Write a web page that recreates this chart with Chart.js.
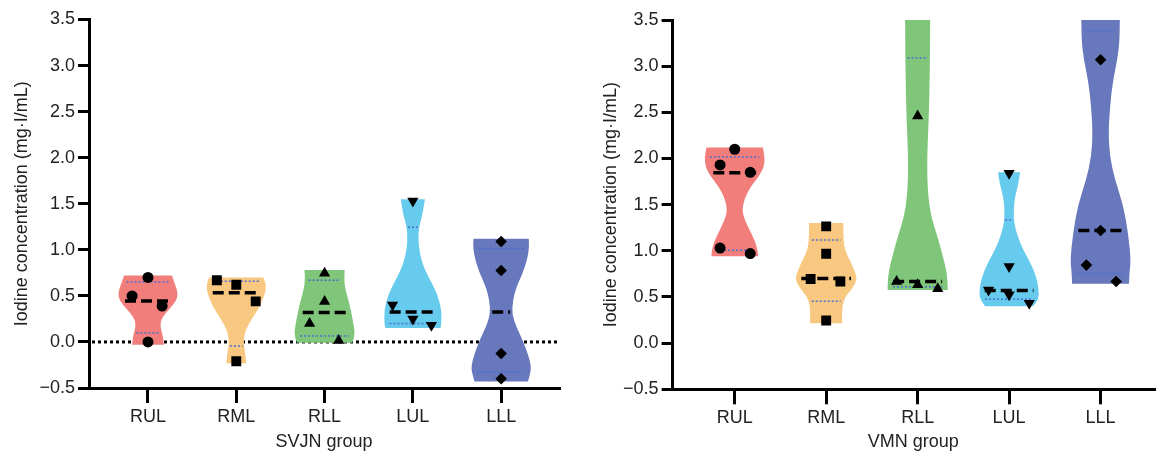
<!DOCTYPE html>
<html>
<head>
<meta charset="utf-8">
<script src="https://cdn.jsdelivr.net/npm/chart.js@4.4.1/dist/chart.umd.min.js"></script>
<style>
  html, body { margin: 0; padding: 0; background: #fff; }
  #wrap { position: relative; width: 1161px; height: 453px; overflow: hidden; }
  canvas { position: absolute; top: 0; }
  #svjnCanvas { left: 0; }
  #vmnCanvas { left: 580px; }
</style>
</head>
<body>
<div id="wrap">
  <canvas id="svjnCanvas" width="580" height="453"></canvas>
  <canvas id="vmnCanvas" width="581" height="453"></canvas>
</div>
<script>
const categories = ["RUL", "RML", "RLL", "LUL", "LLL"];
const yTickValues = [-0.5, 0, 0.5, 1, 1.5, 2, 2.5, 3, 3.5];
const violinColors = ["#F27E7B", "#F8C880", "#80C67A", "#67CBEE", "#6878BC"];
const pointStyles = ["circle", "rect", "triangle", "triangle", "rectRot"];
const pointRotations = [0, 0, 0, 180, 0];
const pointSizes = [5.5, 7, 6.5, 6.5, 5.8];

// SVJN group
const svjnValues = [
  [0.70, 0.50, 0.39, 0.0],
  [0.67, 0.62, 0.44, -0.21],
  [0.745, 0.44, 0.20, 0.015],
  [1.53, 0.40, 0.25, 0.18],
  [1.09, 0.775, -0.125, -0.40],
];
const svjnOffsets = [
  [0, -0.18, 0.16, 0],
  [-0.22, 0, 0.22, 0],
  [0, 0, -0.17, 0.16],
  [0, -0.23, 0, 0.21],
  [0, 0, 0, 0],
];
const svjnMedian = [0.445, 0.535, 0.32, 0.325, 0.325];
const svjnQ1 = [0.097, -0.045, 0.065, 0.2, -0.33];
const svjnQ3 = [0.65, 0.66, 0.67, 1.245, 1.013];
// violin outline: [value, relative half-width]
const svjnShape = [
  [[-0.03, 0.53], [0.05, 0.5], [0.12, 0.45], [0.2, 0.40], [0.28, 0.5], [0.36, 0.72], [0.44, 0.93], [0.52, 1.0], [0.6, 0.93], [0.67, 0.85], [0.72, 0.8]],
  [[-0.23, 0.33], [-0.15, 0.31], [-0.05, 0.26], [0.03, 0.25], [0.12, 0.3], [0.23, 0.48], [0.32, 0.66], [0.4, 0.8], [0.5, 0.93], [0.58, 0.99], [0.65, 0.97], [0.70, 0.9]],
  [[-0.01, 0.92], [0.05, 0.99], [0.12, 1.0], [0.2, 0.96], [0.32, 0.89], [0.45, 0.8], [0.56, 0.7], [0.67, 0.65], [0.78, 0.67]],
  [[0.15, 0.92], [0.2, 0.95], [0.3, 0.95], [0.38, 0.93], [0.52, 0.81], [0.67, 0.58], [0.81, 0.36], [0.96, 0.23], [1.1, 0.18], [1.25, 0.2], [1.39, 0.33], [1.55, 0.4]],
  [[-0.43, 0.89], [-0.34, 0.97], [-0.26, 1.0], [-0.13, 0.89], [0.016, 0.72], [0.16, 0.51], [0.3, 0.36], [0.45, 0.39], [0.6, 0.51], [0.74, 0.71], [0.885, 0.86], [1.03, 0.94], [1.12, 0.92]],
];

// VMN group
const vmnValues = [
  [2.10, 1.93, 1.85, 1.03, 0.97],
  [1.265, 0.968, 0.695, 0.668, 0.245],
  [2.46, 0.668, 0.632, 0.588],
  [1.84, 0.83, 0.575, 0.523, 0.433],
  [3.07, 1.22, 0.845, 0.668],
];
const vmnOffsets = [
  [0, -0.16, 0.17, -0.16, 0.17],
  [0, 0, -0.17, 0.155, 0],
  [0, -0.23, 0, 0.22],
  [0, 0, -0.225, 0, 0.22],
  [0, 0, -0.155, 0.17],
];
const vmnMedian = [1.845, 0.70, 0.668, 0.57, 1.22];
const vmnQ1 = [1.005, 0.455, 0.61, 0.477, 0.755];
const vmnQ3 = [2.015, 1.118, 3.09, 1.335, 3.384];
const vmnShape = [
  [[0.94, 0.76], [0.99, 0.76], [1.10, 0.67], [1.21, 0.51], [1.34, 0.32], [1.44, 0.24], [1.57, 0.32], [1.70, 0.53], [1.80, 0.78], [1.91, 0.96], [2.02, 0.98], [2.12, 0.92]],
  [[0.215, 0.52], [0.33, 0.52], [0.42, 0.54], [0.5, 0.62], [0.58, 0.82], [0.66, 0.97], [0.72, 1.0], [0.8, 0.9], [0.88, 0.8], [0.97, 0.66], [1.06, 0.58], [1.18, 0.56], [1.30, 0.56]],
  [[0.575, 0.98], [0.65, 0.98], [0.79, 0.94], [0.97, 0.80], [1.15, 0.65], [1.37, 0.44], [1.6, 0.34], [1.85, 0.31], [2.1, 0.32], [2.5, 0.37], [3.0, 0.40], [3.5, 0.41], [3.72, 0.41]],
  [[0.40, 0.78], [0.47, 0.96], [0.577, 0.97], [0.72, 0.89], [0.867, 0.70], [1.01, 0.46], [1.155, 0.28], [1.30, 0.16], [1.44, 0.15], [1.59, 0.19], [1.73, 0.31], [1.85, 0.36]],
  [[0.643, 0.93], [0.76, 0.94], [0.90, 0.99], [1.19, 0.90], [1.48, 0.75], [1.77, 0.47], [2.02, 0.30], [2.275, 0.26], [2.53, 0.30], [2.82, 0.39], [3.18, 0.61], [3.5, 0.63], [3.70, 0.63]],
];

const FONT = "'Liberation Sans', Arial, Helvetica, sans-serif";
const TEXT = "#222";

function widthAt(shape, v) {
  if (v <= shape[0][0]) return shape[0][1];
  for (let k = 1; k < shape.length; k++) {
    if (v <= shape[k][0]) {
      const [v0, w0] = shape[k - 1], [v1, w1] = shape[k];
      return w0 + (w1 - w0) * (v - v0) / (v1 - v0);
    }
  }
  return shape[shape.length - 1][1];
}

function traceSide(ctx, pts) {
  ctx.lineTo(pts[0][0], pts[0][1]);
  for (let k = 1; k < pts.length - 1; k++) {
    const mx = (pts[k][0] + pts[k + 1][0]) / 2, my = (pts[k][1] + pts[k + 1][1]) / 2;
    ctx.quadraticCurveTo(pts[k][0], pts[k][1], mx, my);
  }
  const last = pts[pts.length - 1];
  ctx.lineTo(last[0], last[1]);
}

function violinPlugin(shapes, medians, q1s, q3s, halfWidth, zeroLine) {
  return {
    id: "violin",
    beforeDatasetsDraw(chart) {
      const { ctx, chartArea: a, scales: { x, y } } = chart;
      ctx.save();
      ctx.beginPath();
      ctx.rect(a.left, a.top, a.right - a.left, a.bottom - a.top);
      ctx.clip();

      if (zeroLine) {
        const y0 = y.getPixelForValue(0);
        ctx.setLineDash([3, 3]);
        ctx.lineWidth = 3;
        ctx.strokeStyle = "#000";
        ctx.beginPath();
        ctx.moveTo(a.left + 3, y0);
        ctx.lineTo(a.right, y0);
        ctx.stroke();
      }

      shapes.forEach((shape, i) => {
        const c = i + 1;
        const left = shape.map(([v, w]) => [x.getPixelForValue(c - w * halfWidth), y.getPixelForValue(v)]);
        const right = shape.map(([v, w]) => [x.getPixelForValue(c + w * halfWidth), y.getPixelForValue(v)]).reverse();
        ctx.setLineDash([]);
        ctx.beginPath();
        ctx.moveTo(left[0][0], left[0][1]);
        traceSide(ctx, left);
        traceSide(ctx, right);
        ctx.closePath();
        ctx.fillStyle = violinColors[i];
        ctx.fill();
      });

      const hline = (i, v, dash, lw, color) => {
        const w = widthAt(shapes[i], v) * halfWidth * 0.82;
        const py = y.getPixelForValue(v);
        ctx.setLineDash(dash);
        ctx.lineWidth = lw;
        ctx.strokeStyle = color;
        ctx.beginPath();
        ctx.moveTo(x.getPixelForValue(i + 1 - w), py);
        ctx.lineTo(x.getPixelForValue(i + 1 + w), py);
        ctx.stroke();
      };
      shapes.forEach((s, i) => {
        hline(i, q1s[i], [2, 2], 1.5, "#4A6ED2");
        hline(i, q3s[i], [2, 2], 1.5, "#4A6ED2");
      });
      shapes.forEach((s, i) => hline(i, medians[i], [11, 5], 3.5, "#000"));
      ctx.restore();
    },
  };
}

function fmtTick(v) {
  return v < 0 ? "\u2212" + Math.abs(v).toFixed(1) : v.toFixed(1);
}

function makeChart(id, groupTitle, values, offsets, medians, q1s, q3s, shapes, layout) {
  return new Chart(document.getElementById(id), {
    type: "scatter",
    data: {
      datasets: categories.map((c, i) => ({
        label: c,
        data: values[i].map((v, j) => ({ x: i + 1 + offsets[i][j], y: v })),
        pointStyle: pointStyles[i],
        rotation: pointRotations[i],
        pointRadius: pointSizes[i],
        backgroundColor: "#000",
        borderColor: "#000",
        borderWidth: 0,
      })),
    },
    plugins: [violinPlugin(shapes, medians, q1s, q3s, layout.halfWidth, layout.zeroLine)],
    options: {
      responsive: false,
      animation: false,
      events: [],
      layout: { padding: { top: layout.top, right: layout.right, bottom: 0, left: 0 } },
      plugins: { legend: { display: false }, tooltip: { enabled: false } },
      scales: {
        x: {
          type: "linear",
          min: layout.xMin,
          max: layout.xMax,
          afterBuildTicks: (s) => { s.ticks = categories.map((c, i) => ({ value: i + 1 })); },
          afterFit: (s) => { s.height = layout.xHeight; },
          ticks: {
            callback: (v) => categories[v - 1],
            font: { family: FONT, size: 18 },
            color: TEXT,
            padding: 3,
            maxRotation: 0,
            autoSkip: false,
          },
          grid: { drawOnChartArea: false, tickLength: 15, tickWidth: 3, tickColor: "#000", lineWidth: 3 },
          border: { display: true, width: 3, color: "#000" },
          title: {
            display: true,
            text: groupTitle,
            font: { family: FONT, size: 18 },
            color: TEXT,
            padding: { top: 0, bottom: 0 },
          },
        },
        y: {
          min: -0.5,
          max: 3.5,
          afterBuildTicks: (s) => { s.ticks = yTickValues.map((v) => ({ value: v })); },
          afterFit: (s) => { s.width = layout.yWidth; },
          ticks: {
            callback: fmtTick,
            font: { family: FONT, size: 18 },
            color: TEXT,
            padding: 3,
          },
          grid: { drawOnChartArea: false, tickLength: 11, tickWidth: 3, tickColor: "#000", lineWidth: 3 },
          border: { display: true, width: 3, color: "#000" },
          title: {
            display: true,
            text: "Iodine concentration (mg\u00B7I/mL)",
            font: { family: FONT, size: 18 },
            color: TEXT,
            padding: { top: layout.titlePad, bottom: 0 },
          },
        },
      },
    },
  });
}

makeChart("svjnCanvas", "SVJN group", svjnValues, svjnOffsets, svjnMedian, svjnQ1, svjnQ3, svjnShape, {
  top: 19.5, right: 21, xHeight: 65, yWidth: 89, xMin: 0.332, xMax: 5.655, halfWidth: 0.34, zeroLine: true, titlePad: 11,
});
makeChart("vmnCanvas", "VMN group", vmnValues, vmnOffsets, vmnMedian, vmnQ1, vmnQ3, vmnShape, {
  top: 20, right: 0, xHeight: 63.7, yWidth: 92.6, xMin: 0.321, xMax: 5.584, halfWidth: 0.335, zeroLine: false, titlePad: 20.7,
});
</script>
</body>
</html>
